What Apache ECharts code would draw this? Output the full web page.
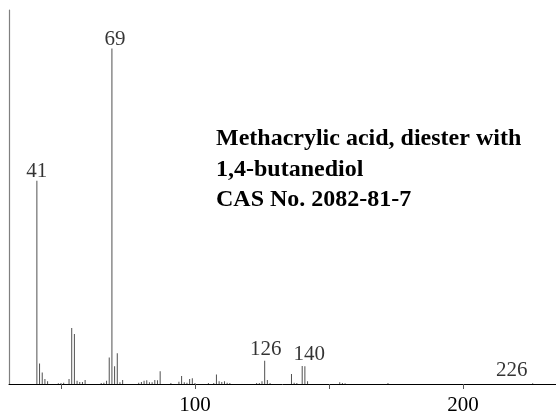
<!DOCTYPE html>
<html>
<head>
<meta charset="utf-8">
<script src="https://cdn.jsdelivr.net/npm/echarts@6/dist/echarts.min.js"></script>
<style>
  html, body { margin: 0; padding: 0; background: #fff; }
  #chart { width: 556px; height: 416px; }
</style>
</head>
<body>
<div id="chart"></div>
<script>
// Mass spectrum: m/z positions and relative intensities (% of base peak)
const mz = [41, 42, 43, 44, 45, 49, 50, 51, 53, 54, 55, 56, 57, 58, 59,
  65, 66, 67, 68, 69, 70, 71, 72, 73, 79, 80, 81, 82, 83, 84, 85, 86, 87,
  91, 94, 95, 96, 97, 98, 99, 100, 105, 107, 108, 109, 110, 111, 112, 113,
  123, 124, 125, 126, 127, 128, 136, 137, 138, 140, 141, 142, 154, 155, 156,
  172, 226];
const intensity = [60.6, 6.1, 3.4, 1.5, 0.8, 0.2, 0.3, 0.4, 1.5, 16.7, 14.9, 1.0, 0.6, 0.6, 1.2,
  0.3, 0.4, 1.0, 7.9, 100, 5.3, 9.2, 0.5, 1.2, 0.4, 0.6, 1.0, 1.1, 0.5, 0.5, 1.2, 1.1, 3.8,
  0.3, 0.7, 2.4, 0.5, 0.4, 1.5, 1.7, 0.3, 0.3, 0.3, 2.8, 0.8, 0.6, 0.8, 0.4, 0.3,
  0.3, 0.3, 0.8, 6.9, 1.2, 0.3, 3.0, 0.4, 0.3, 5.4, 5.3, 0.8, 0.5, 0.3, 0.2,
  0.3, 0.2];

// Peaks that carry an m/z label
const labelledPeaks = [41, 69, 126, 140, 226];
// Nudges [dx, dy] for the labels so they sit clear of each other
const labelShift = { 41: [0, 3], 69: [3, 3], 126: [1, 1], 140: [7, 1], 226: [-21, 0] };

// Axis ticks and labelled ticks
const tickValues = [50, 100, 150, 200];
const tickLabels = [100, 200];

const titleLines = ['Methacrylic acid, diester with', '1,4-butanediol', 'CAS No. 2082-81-7'];

const stickData = mz.map((m, i) => [m, intensity[i]]);
const labelData = labelledPeaks.map(m => {
  const v = intensity[mz.indexOf(m)];
  return {
    value: [m, v],
    label: { offset: labelShift[m] }
  };
});

const chart = echarts.init(document.getElementById('chart'), null, { renderer: 'canvas' });
chart.setOption({
  animation: false,
  backgroundColor: '#fff',
  title: {
    text: titleLines.join('\n'),
    left: 216,
    top: 124,
    padding: 0,
    textStyle: {
      fontFamily: 'Liberation Serif',
      fontWeight: 'bold',
      fontSize: 24,
      lineHeight: 30.5,
      color: '#000'
    }
  },
  grid: { left: 9, right: 0, top: 10, bottom: 27, containLabel: false },
  xAxis: {
    type: 'value',
    min: 30.6,
    max: 234.7,
    splitLine: { show: false },
    axisLine: { show: true, lineStyle: { color: '#000', width: 1 } },
    axisTick: {
      show: true,
      inside: false,
      length: 5,
      customValues: tickValues,
      lineStyle: { color: '#555' }
    },
    axisLabel: {
      show: true,
      customValues: tickLabels,
      margin: 11,
      fontFamily: 'Liberation Serif',
      fontSize: 21,
      color: '#000'
    }
  },
  yAxis: {
    type: 'value',
    min: 0,
    max: 111.5,
    splitLine: { show: false },
    axisLine: { show: true, lineStyle: { color: '#808080', width: 1.2 } },
    axisTick: { show: false },
    axisLabel: { show: false }
  },
  series: [
    {
      type: 'bar',
      data: stickData,
      barWidth: 1,
      itemStyle: { color: '#505050' },
      silent: true
    },
    {
      type: 'scatter',
      data: labelData,
      symbolSize: 0,
      silent: true,
      label: {
        show: true,
        position: 'top',
        distance: 2,
        formatter: p => String(p.value[0]),
        fontFamily: 'Liberation Serif',
        fontSize: 21,
        color: '#000'
      }
    }
  ]
});
</script>
</body>
</html>
